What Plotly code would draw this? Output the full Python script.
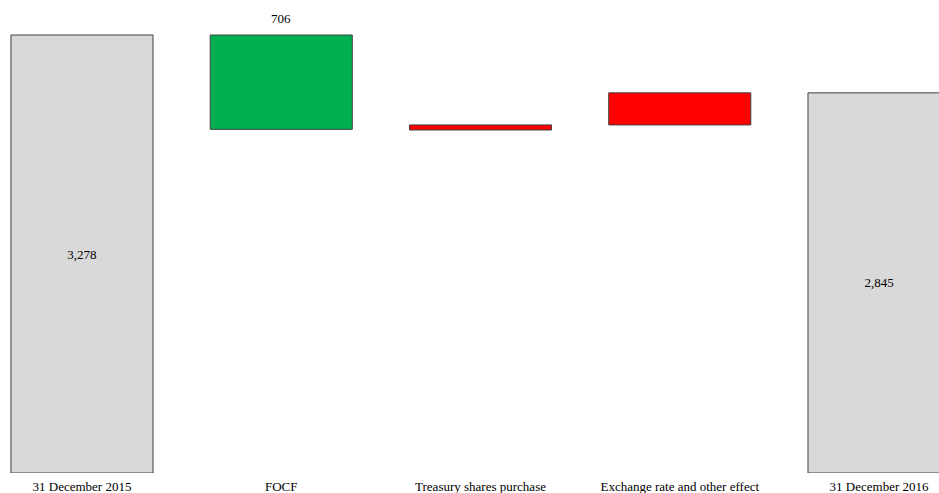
import plotly.graph_objects as go

categories = ["31 December 2015", "FOCF", "Treasury shares purchase",
              "Exchange rate and other effect", "31 December 2016"]
bar_bases = [0, 2572, 2567, 2605, 0]
bar_heights = [3278, 706, 38, 240, 2845]
bar_labels = ["3,278", "", "", "", "2,845"]
bar_colors = ["#d9d9d9", "#00b050", "#ff0000", "#ff0000", "#d9d9d9"]
top_label = "706"
top_label_index = 1

font = "Liberation Serif, Times New Roman, serif"

fig = go.Figure()
fig.add_trace(go.Bar(
    x=categories, y=bar_heights, base=bar_bases,
    marker=dict(color=bar_colors, line=dict(color="#404040", width=1)),
    text=bar_labels, textposition="inside", insidetextanchor="middle",
    textangle=0, constraintext="none",
    textfont=dict(family=font, size=13, color="black"),
    hoverinfo="skip",
))
fig.add_annotation(
    x=categories[top_label_index],
    y=bar_bases[top_label_index] + bar_heights[top_label_index],
    text=top_label, showarrow=False, yanchor="bottom", yshift=7,
    font=dict(family=font, size=13, color="black"),
)
fig.update_layout(
    width=939, height=493,
    margin=dict(l=0, r=0, t=0, b=20, autoexpand=False),
    paper_bgcolor="white", plot_bgcolor="white",
    bargap=0.287, showlegend=False,
    font=dict(family=font, size=13, color="black"),
)
fig.update_xaxes(range=[-0.4115, 4.301], showgrid=False, showline=False,
                 zeroline=False, ticks="", ticklabelstandoff=4, automargin=False,
                 tickfont=dict(family=font, size=13, color="black"))
fig.update_yaxes(range=[0, 3540], visible=False, showgrid=False, zeroline=False,
                 automargin=False)

fig.write_html("out.html")
